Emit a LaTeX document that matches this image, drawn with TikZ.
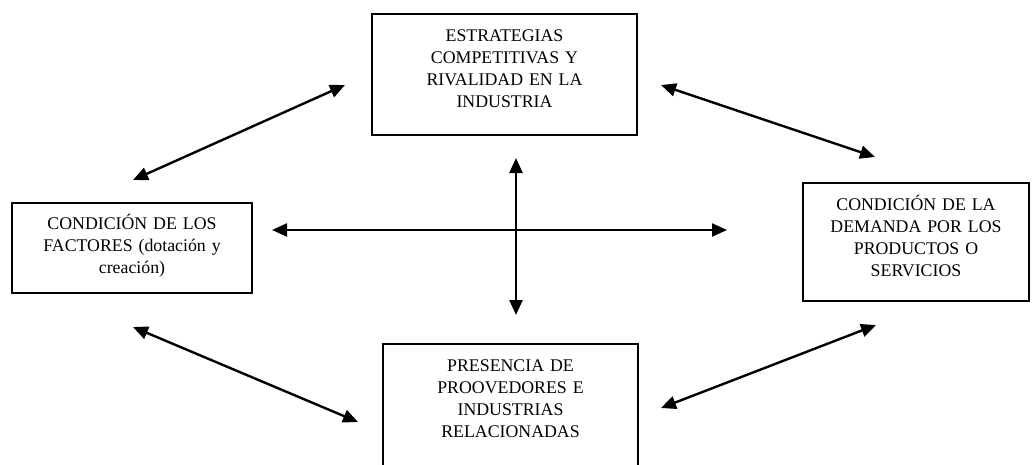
\documentclass[tikz,border=0pt]{standalone}
\usepackage{fontspec}
\setmainfont{Liberation Serif}
\usetikzlibrary{arrows.meta}
\begin{document}
\begin{tikzpicture}[x=1pt,y=-1pt,
  box/.style={draw, line width=1.8pt, inner sep=0pt, align=center,
    font=\fontsize{17.8pt}{22pt}\selectfont},
  link/.style={line width=2.4pt, {Triangle[length=15pt,width=13pt]}-{Triangle[length=15pt,width=13pt]}}]
\useasboundingbox (0,0) rectangle (1032,464);
\fill[white] (0,0) rectangle (1032,464);
% boxes: text top placed via text height / depth
\node[box, text width=265pt, text height=28pt, text depth=93pt, anchor=north] (top) at (504.5,13)
  {ESTRATEGIAS\\COMPETITIVAS Y\\RIVALIDAD EN LA\\INDUSTRIA};
\node[box, text width=240pt, text height=27pt, text depth=63pt, anchor=north] (left) at (132,202)
  {CONDICIÓN DE LOS\\FACTORES (dotación y\\creación)};
\node[box, text width=226pt, text height=28pt, text depth=90pt, anchor=north] (right) at (916,182)
  {CONDICIÓN DE LA\\DEMANDA POR LOS\\PRODUCTOS O\\SERVICIOS};
\node[box, text width=255pt, text height=28pt, text depth=96pt, anchor=north] (bottom) at (510.5,343)
  {PRESENCIA DE\\PROOVEDORES E\\INDUSTRIAS\\RELACIONADAS};
% arrow end points
\coordinate (a1s) at (133,180); \coordinate (a1e) at (345,85);
\coordinate (a2s) at (661,85);  \coordinate (a2e) at (875,157);
\coordinate (hs) at (272,230);  \coordinate (he) at (727,230);
\coordinate (vs) at (516,158);  \coordinate (ve) at (516,315);
\coordinate (a5s) at (133,327); \coordinate (a5e) at (358,422);
\coordinate (a6s) at (661,408); \coordinate (a6e) at (876,325);
\draw[link] (a1s) -- (a1e);
\draw[link] (a2s) -- (a2e);
\draw[link] (hs) -- (he);
\draw[link] (vs) -- (ve);
\draw[link] (a5s) -- (a5e);
\draw[link] (a6s) -- (a6e);
\end{tikzpicture}
\end{document}
